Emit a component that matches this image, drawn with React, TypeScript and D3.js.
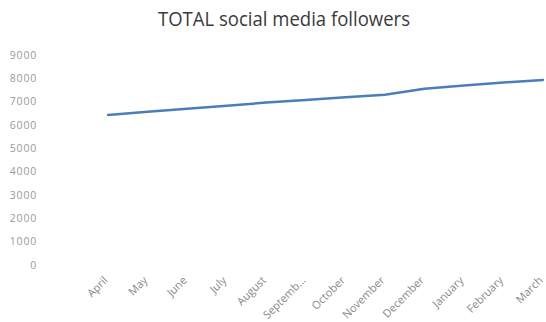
import React from "react";
import * as d3 from "d3";

const months = ["April", "May", "June", "July", "August", "September", "October", "November", "December", "January", "February", "March"];
const tickLabels = ["April", "May", "June", "July", "August", "Septemb…", "October", "November", "December", "January", "February", "March"];
const followers = [6430, 6570, 6700, 6830, 6960, 7070, 7190, 7300, 7550, 7690, 7820, 7930];
const yTicks = [0, 1000, 2000, 3000, 4000, 5000, 6000, 7000, 8000, 9000];

const W = 546;
const H = 322;

export default function App() {
  const x = d3.scaleBand<string>().domain(months).range([88.3, 562.8]);
  const y = d3.scaleLinear().domain([0, 9000]).range([265, 55]);
  const cx = (m: string) => (x(m) as number) + x.bandwidth() / 2;
  const line = d3
    .line<number>()
    .x((_, i) => cx(months[i]))
    .y((d) => y(d));

  return (
    <svg
      width={W}
      height={H}
      style={{ position: "absolute", left: 0, top: 0, background: "#fff" }}
      fontFamily="'Open Sans', sans-serif"
    >
      <rect x={0} y={0} width={W} height={H} fill="#fff" />
      <text
        x={284}
        y={26}
        textAnchor="middle"
        fontSize={20}
        fill="#3a3a3a"
        textLength={252}
        lengthAdjust="spacingAndGlyphs"
      >
        TOTAL social media followers
      </text>
      {yTicks.map((t) => (
        <text
          key={t}
          x={37}
          y={y(t)}
          dy="0.35em"
          textAnchor="end"
          fontSize={10.5}
          letterSpacing={0.8}
          fill="#9a9a9a"
        >
          {t}
        </text>
      ))}
      {months.map((m, i) => (
        <text
          key={m}
          transform={`translate(${cx(m) + 0.5},${281}) rotate(-45)`}
          textAnchor="end"
          fontSize={11}
          fill="#888"
        >
          {tickLabels[i]}
        </text>
      ))}
      <path
        d={line(followers) || ""}
        fill="none"
        stroke="#4a7ebb"
        strokeWidth={2.5}
        strokeLinejoin="round"
        strokeLinecap="round"
      />
    </svg>
  );
}
